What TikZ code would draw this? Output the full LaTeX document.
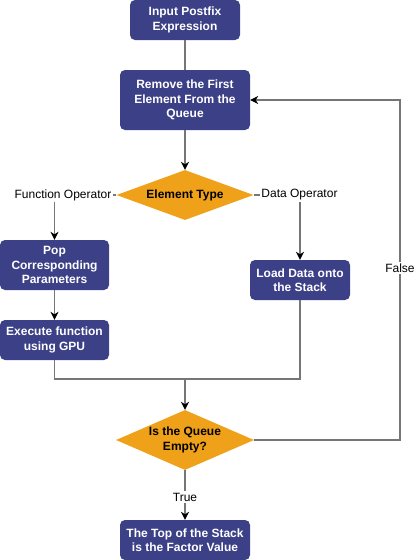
\documentclass[tikz,border=0pt]{standalone}
\usepackage{fontspec}
\setmainfont{Liberation Sans}
\usetikzlibrary{shapes.geometric,arrows.meta}
\definecolor{boxblue}{RGB}{60,64,135}
\definecolor{decorange}{RGB}{240,161,26}
\definecolor{linegray}{RGB}{118,118,118}

\begin{document}
\begin{tikzpicture}[x=1pt,y=-1pt,font=\fontsize{12}{14.5}\selectfont,
  block/.style={fill=boxblue,rounded corners=5pt,text=white,font=\fontsize{12}{14.5}\selectfont\bfseries,align=center,inner sep=0pt},
  decision/.style={diamond,aspect=2.3,fill=decorange,align=center,inner sep=0pt},
  line/.style={draw=linegray,line width=1.2pt},
  arr/.style={line,-{Stealth[length=8pt,width=8pt,inset=2.5pt,black]}},
  lab/.style={fill=white,inner sep=1.5pt}]
  \useasboundingbox (0,0) rectangle (416,560);
  \node[block,minimum width=110,minimum height=40] (inp) at (185,20) {Input Postfix\\Expression};
  \node[block,minimum width=130,minimum height=60] (rem) at (185,100) {Remove the First\\Element From the\\Queue};
  \node[decision,minimum width=137,minimum height=50] (etype) at (185,195) {\bfseries Element Type};
  \node[block,minimum width=109,minimum height=50] (pop) at (54.5,265) {Pop\\Corresponding\\Parameters};
  \node[block,minimum width=109,minimum height=40] (exe) at (54.5,340) {Execute function\\using GPU};
  \node[block,minimum width=100,minimum height=40] (load) at (300,280) {Load Data onto\\the Stack};
  \node[decision,minimum width=138,minimum height=60] (empty) at (185,440) {\bfseries Is the Queue\\\bfseries Empty?};
  \node[block,minimum width=130,minimum height=40] (res) at (185,540) {The Top of the Stack\\is the Factor Value};
  \coordinate (join) at (185,379);
  \coordinate (back) at (400,100);

  \draw[line] (inp) -- (rem);
  \draw[arr] (rem) -- (etype);
  \draw[arr] (etype.west) -| (pop.north);
  \draw[arr] (etype.east) -| (load.north);
  \draw[arr] (pop) -- (exe);
  \draw[line] (exe.south) |- (join) -| (load.south);
  \draw[arr] (join) -- (empty.north);
  \draw[arr] (empty.east) -| (back) -- (rem.east);
  \draw[arr] (empty.south) -- (res.north);

  \node[lab] (fop) at (63,195) {Function Operator};
  \node[lab] (dop) at (299.5,195) {Data Operator};
  \node[lab] (fls) at (400,268) {False};
  \node[lab] (tru) at (185,497) {True};
\end{tikzpicture}
\end{document}
